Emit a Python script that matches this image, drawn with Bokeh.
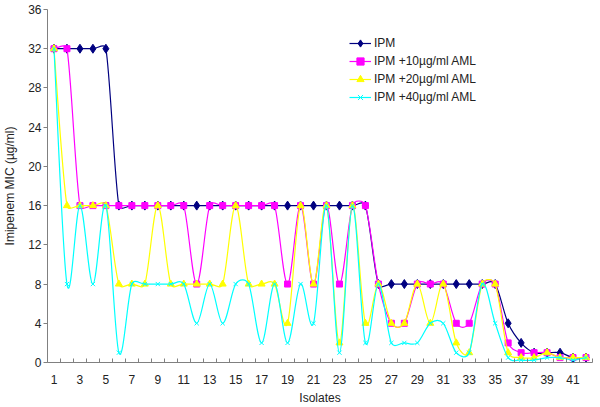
import numpy as np
from bokeh.plotting import figure
from bokeh.models import FixedTicker, ColumnDataSource
from bokeh.embed import file_html
from bokeh.resources import INLINE

isolates = list(range(1, 43))
ipm = [32, 32, 32, 32, 32, 16, 16, 16, 16, 16, 16, 16, 16, 16, 16, 16, 16, 16, 16, 16,
       16, 16, 16, 16, 16, 8, 8, 8, 8, 8, 8, 8, 8, 8, 8, 4, 2, 1, 1, 1, 0.5, 0.5]
ipm10 = [32, 32, 16, 16, 16, 16, 16, 16, 16, 16, 16, 8, 16, 16, 16, 16, 16, 16, 8, 16,
         8, 16, 8, 16, 16, 8, 4, 4, 8, 8, 8, 4, 4, 8, 8, 2, 1, 1, 1, 0.5, 0.5, 0.5]
ipm20 = [32, 16, 16, 16, 16, 8, 8, 8, 16, 8, 8, 8, 8, 8, 16, 8, 8, 8, 4, 16,
         8, 16, 2, 16, 4, 8, 4, 4, 8, 4, 8, 2, 1, 8, 8, 1, 0.5, 0.5, 1, 0.5, 0.5, 0.5]
ipm40 = [32, 8, 16, 8, 16, 1, 8, 8, 8, 8, 8, 4, 8, 4, 8, 8, 2, 8, 2, 8,
         4, 16, 1, 16, 2, 8, 2, 2, 2, 4, 4, 1, 1, 8, 4, 0.5, 0.25, 0.25, 0.5, 0.5, 0.25, 0.5]
series_names = ["IPM", "IPM +10\u00b5g/ml AML", "IPM +20\u00b5g/ml AML", "IPM +40\u00b5g/ml AML"]
x_tick_labels = list(range(1, 42, 2))
y_ticks = list(range(0, 37, 4))

FONT = "Liberation Sans"
SX, SY = 13.0, 9.83  # approximate pixels per data unit, used only for curve smoothing


def smooth_source(xs, ys):
    # Excel-like smoothed line: Bezier arms = tangent/6, capped at half the segment length
    x = np.asarray(xs, float) * SX
    y = np.asarray(ys, float) * SY
    n = len(x)
    xp = np.concatenate([[x[0]], x, [x[-1]]])
    yp = np.concatenate([[y[0]], y, [y[-1]]])
    cx0, cy0, cx1, cy1 = [], [], [], []
    for i in range(n - 1):
        k = i + 1  # padded index of P_i
        seg = np.hypot(xp[k + 1] - xp[k], yp[k + 1] - yp[k])
        tx, ty = (xp[k + 1] - xp[k - 1]) / 6.0, (yp[k + 1] - yp[k - 1]) / 6.0
        ln = np.hypot(tx, ty)
        if ln > seg / 2 and ln > 0:
            tx, ty = tx * seg / 2 / ln, ty * seg / 2 / ln
        cx0.append(xp[k] + tx)
        cy0.append(yp[k] + ty)
        tx, ty = (xp[k + 2] - xp[k]) / 6.0, (yp[k + 2] - yp[k]) / 6.0
        ln = np.hypot(tx, ty)
        if ln > seg / 2 and ln > 0:
            tx, ty = tx * seg / 2 / ln, ty * seg / 2 / ln
        cx1.append(xp[k + 1] - tx)
        cy1.append(yp[k + 1] - ty)
    return ColumnDataSource(dict(
        x0=x[:-1] / SX, y0=y[:-1] / SY, x1=x[1:] / SX, y1=y[1:] / SY,
        cx0=np.array(cx0) / SX, cy0=np.array(cy0) / SY,
        cx1=np.array(cx1) / SX, cy1=np.array(cy1) / SY,
    ))


p = figure(width=600, height=407, output_backend="svg", toolbar_location=None,
           x_range=(0.5, 42.5), y_range=(0, 36),
           min_border_left=45, min_border_right=8, min_border_top=9, min_border_bottom=44)
p.outline_line_color = None
p.xgrid.grid_line_color = None
p.ygrid.grid_line_color = None
p.background_fill_color = "white"

styles = [
    ("#000080", "diamond", 9, "#000080"),
    ("#FF00FF", "square", 6, "#FF00FF"),
    ("#FFFF00", "triangle", 7, "#FFFF00"),
    ("#00FFFF", "x", 6, "#00FFFF"),
]
data = [ipm, ipm10, ipm20, ipm40]
for ys, name, (col, mk, sz, fc) in zip(data, series_names, styles):
    src = smooth_source(isolates, ys)
    p.bezier(x0="x0", y0="y0", x1="x1", y1="y1", cx0="cx0", cy0="cy0", cx1="cx1", cy1="cy1",
             source=src, line_color=col, line_width=1.2, legend_label=name)
    p.scatter(isolates, ys, marker=mk, size=sz, line_color=col, fill_color=fc,
              line_width=1, legend_label=name)

# axes
for ax in (p.xaxis[0], p.yaxis[0]):
    ax.axis_line_color = "#808080"
    ax.major_label_text_font = FONT
    ax.major_label_text_font_size = "12px"
    ax.major_label_text_color = "#222222"
    ax.axis_label_text_font = FONT
    ax.axis_label_text_font_size = "12px"
    ax.axis_label_text_font_style = "normal"
    ax.axis_label_text_color = "#222222"

p.xaxis.ticker = FixedTicker(ticks=x_tick_labels, minor_ticks=[i + 0.5 for i in range(0, 43)])
p.xaxis.major_tick_line_color = None
p.xaxis.minor_tick_line_color = "#808080"
p.xaxis.minor_tick_in = 4
p.xaxis.minor_tick_out = 0
p.xaxis.major_label_standoff = 6
p.xaxis.axis_label = "Isolates"
p.xaxis.axis_label_standoff = 4

p.yaxis.ticker = FixedTicker(ticks=y_ticks)
p.yaxis.major_tick_line_color = "#808080"
p.yaxis.major_tick_out = 4
p.yaxis.major_tick_in = 0
p.yaxis.minor_tick_line_color = None
p.yaxis.major_label_standoff = 2
p.yaxis.axis_label = "Imipenem MIC (\u00b5g/ml)"
p.yaxis.axis_label_standoff = 8

lg = p.legend[0]
lg.location = (302, 256)
lg.border_line_color = None
lg.background_fill_alpha = 0
lg.padding = 0
lg.margin = 0
lg.spacing = 0
lg.glyph_width = 22
lg.glyph_height = 18
lg.label_standoff = 3
lg.label_height = 18
lg.label_text_font = FONT
lg.label_text_font_size = "12px"
lg.label_text_color = "#222222"

open("out.html", "w").write(file_html(p, INLINE))
